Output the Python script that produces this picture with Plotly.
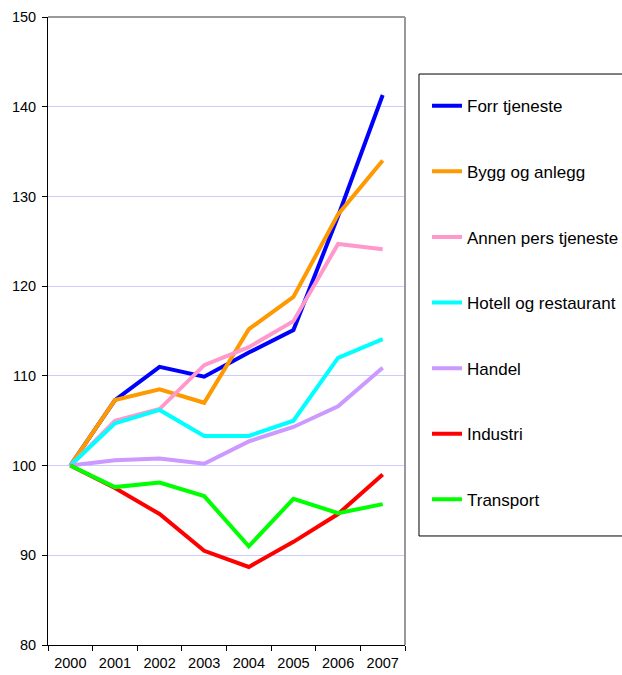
import plotly.graph_objects as go

years = ["2000", "2001", "2002", "2003", "2004", "2005", "2006", "2007"]

forr_tjeneste = [100, 107.3, 111.0, 109.9, 112.6, 115.1, 127.8, 141.3]
bygg_og_anlegg = [100, 107.3, 108.5, 107.0, 115.2, 118.8, 128.0, 134.0]
annen_pers_tjeneste = [100, 105.0, 106.3, 111.2, 113.2, 116.1, 124.7, 124.1]
hotell_og_restaurant = [100, 104.7, 106.2, 103.3, 103.3, 105.0, 112.0, 114.1]
handel = [100, 100.6, 100.8, 100.2, 102.7, 104.3, 106.6, 110.9]
industri = [100, 97.5, 94.6, 90.5, 88.7, 91.5, 94.6, 99.0]
transport = [100, 97.6, 98.1, 96.6, 91.0, 96.3, 94.7, 95.7]

series = [
    ("Forr tjeneste", forr_tjeneste, "#0000FF"),
    ("Bygg og anlegg", bygg_og_anlegg, "#FF9900"),
    ("Annen pers tjeneste", annen_pers_tjeneste, "#FF99CC"),
    ("Hotell og restaurant", hotell_og_restaurant, "#00FFFF"),
    ("Handel", handel, "#CC99FF"),
    ("Industri", industri, "#FF0000"),
    ("Transport", transport, "#00FF00"),
]

y_ticks = [80, 90, 100, 110, 120, 130, 140, 150]

fig = go.Figure()
for i, (name, vals, color) in enumerate(series):
    fig.add_trace(go.Scatter(
        x=years, y=vals, name=name, mode="lines",
        line=dict(color=color, width=4),
        legendgroup=f"g{i}",
    ))

fig.update_layout(
    width=622, height=675,
    margin=dict(l=48, r=217, t=17, b=30, autoexpand=False),
    plot_bgcolor="white", paper_bgcolor="white",
    font=dict(family="Arial, Liberation Sans, sans-serif", color="black", size=14),
    showlegend=True,
    legend=dict(
        x=1.0616, y=0.8866, xanchor="left", yanchor="top",
        borderwidth=0, bgcolor="rgba(0,0,0,0)",
        font=dict(size=17, color="black"),
        traceorder="grouped", tracegroupgap=40.5,
        itemwidth=30,
    ),
    xaxis=dict(
        type="category", tickson="boundaries", ticks="outside", ticklen=5,
        tickcolor="black", showline=True, linecolor="black", linewidth=1,
        showgrid=False, tickfont=dict(size=14.5), range=[-0.5, 7.5],
        automargin=False, ticklabelstandoff=5,
    ),
    yaxis=dict(
        range=[80, 150], tickvals=y_ticks, ticks="outside", ticklen=5,
        tickcolor="black", showline=True, linecolor="black", linewidth=1,
        showgrid=True, gridcolor="#CCCCFF", gridwidth=1, zeroline=False,
        tickfont=dict(size=14.5), automargin=False, ticklabelstandoff=3,
    ),
)

# gray top and right border of plot area
fig.add_shape(type="line", xref="paper", yref="paper", x0=0, x1=1, y0=1, y1=1,
              line=dict(color="#999999", width=2))
fig.add_shape(type="line", xref="paper", yref="paper", x0=1, x1=1, y0=0, y1=1,
              line=dict(color="#999999", width=2))
# legend frame
fig.add_shape(type="rect", xref="paper", yref="paper",
              x0=1.0392, x1=1.658, y0=0.1736, y1=0.9092,
              line=dict(color="black", width=1), fillcolor="rgba(0,0,0,0)")

fig.write_html(
    "out.html",
    config={"displayModeBar": False},
    post_script="document.body.style.margin='0px';document.body.style.overflow='hidden';",
)
